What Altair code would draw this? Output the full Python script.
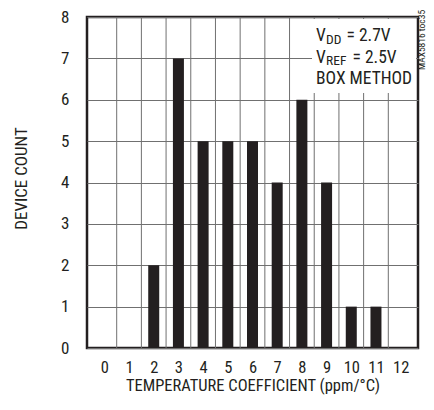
import altair as alt
import pandas as pd

# Data
coefficients = [0, 1, 2, 3, 4, 5, 6, 7, 8, 9, 10, 11, 12]
device_counts = [0, 0, 2, 7, 5, 5, 5, 4, 6, 4, 1, 1, 0]
y_ticks = [0, 1, 2, 3, 4, 5, 6, 7, 8]
x_title = "TEMPERATURE COEFFICIENT (ppm/°C)"
y_title = "DEVICE COUNT"
side_note = "MAX5816 toc35"

FONT = "Liberation Sans Narrow, Roboto Condensed, DejaVu Sans Condensed, Arial Narrow, sans-serif"
INK = "#231f20"

bars_df = pd.DataFrame({"coef": coefficients, "count": device_counts})
grid_df = pd.DataFrame({"b": [c + 0.5 for c in coefficients[:-1]]})
one = pd.DataFrame({"k": [0]})

W, H = 331, 331
xscale = alt.Scale(domain=[coefficients[0] - 0.5, coefficients[-1] + 0.5], nice=False, zero=False)
yscale = alt.Scale(domain=[y_ticks[0], y_ticks[-1]], nice=False)

x_axis = alt.Axis(values=coefficients, title=x_title, grid=False, ticks=False,
                  domain=False, labelPadding=11, titlePadding=2,
                  labelFontSize=16.5, titleFontSize=16.5, labelFlush=False,
                  labelOverlap=False)
y_axis = alt.Axis(values=y_ticks, title=y_title, grid=True, ticks=False,
                  domain=False, labelPadding=18, titlePadding=30,
                  labelFontSize=17, titleFontSize=17, labelOverlap=False,
                  titleY=161,
                  gridColor="#707070", gridWidth=1)

vgrid = alt.Chart(grid_df).mark_rule(color="#707070", strokeWidth=1).encode(
    x=alt.X("b:Q", scale=xscale, axis=x_axis)
)

bars = alt.Chart(bars_df).mark_bar(size=11, color=INK).encode(
    x=alt.X("coef:Q", scale=xscale, axis=x_axis),
    y=alt.Y("count:Q", scale=yscale, axis=y_axis),
)

box = alt.Chart(one).mark_rect(color="white").encode(
    x=alt.value(225), x2=alt.value(329), y=alt.value(2), y2=alt.value(76)
)

def txt(s, x, y, size=17.5):
    return alt.Chart(one).mark_text(text=s, font=FONT, fontSize=size, align="left",
                                    baseline="alphabetic", color=INK).encode(
        x=alt.value(x), y=alt.value(y))

texts = [
    txt("V", 229, 24),
    txt("DD", 239, 26.5, size=13.5),
    txt("= 2.7V", 259.5, 24),
    txt("V", 229, 45.7),
    txt("REF", 239, 48.2, size=13.5),
    txt("= 2.5V", 265.5, 45.7),
    txt("BOX METHOD", 229, 67.3),
    alt.Chart(one).mark_text(text=side_note, font=FONT, fontSize=9.5, align="center",
                             baseline="alphabetic", angle=270, color=INK).encode(
        x=alt.value(338.3), y=alt.value(23)),
]

chart = alt.layer(vgrid, bars, box, *texts).properties(
    width=W, height=H,
    autosize=alt.AutoSizeParams(type="none"),
    padding={"left": 79, "top": 9, "right": 8, "bottom": 49},
).configure_view(
    stroke=INK, strokeWidth=2.5
).configure_axis(
    labelFont=FONT, titleFont=FONT, labelColor=INK, titleColor=INK,
    titleFontWeight="normal"
)

chart.save("out.html", embed_options={"renderer": "svg", "actions": False})
